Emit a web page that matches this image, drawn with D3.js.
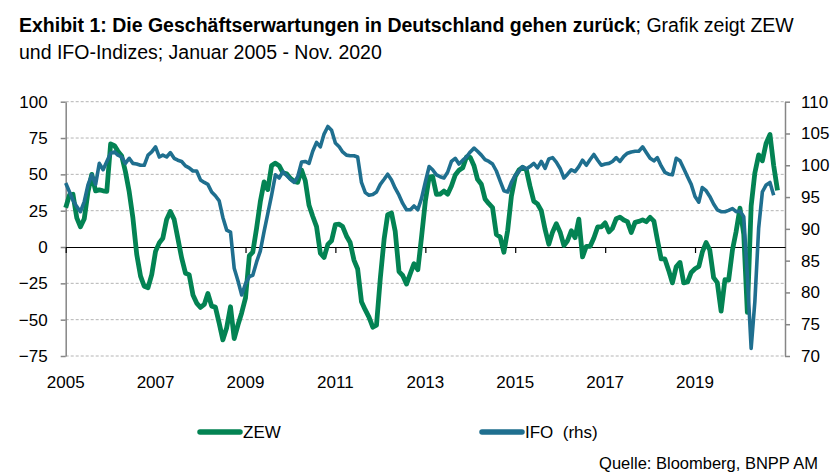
<!DOCTYPE html>
<html>
<head>
<meta charset="utf-8">
<script src="https://cdn.jsdelivr.net/npm/d3@7"></script>
<style>
  body { margin: 0; background: #fff; }
  text { font-family: 'Liberation Sans Narrow', 'Arial Narrow', 'Liberation Sans', Arial, sans-serif; fill: #000; }
</style>
</head>
<body>
<script>
let width = 832,
    height = 475

// monthly values, Jan 2005 onwards
const startMonth = new Date(2005, 0, 1)

const zew = [
  27.0, 35.9, 36.3, 20.1, 13.9, 19.5, 37.9, 50.0, 38.6, 39.3, 38.7, 38.3,
  71.0, 69.8, 66.0, 62.6, 52.0, 38.0, 20.0, -5.0, -20.0, -27.0, -28.0, -19.0,
  -3.0, 3.0, 6.0, 19.0, 24.5, 19.0, 6.0, -7.5, -18.0, -19.0, -33.0, -38.6,
  -41.6, -39.5, -32.0, -40.7, -41.4, -52.4, -63.9, -55.5, -41.1, -63.0, -53.5, -45.2,
  -35.0, -6.0, -3.5, 13.0, 31.1, 44.8, 39.5, 56.1, 57.7, 56.0, 51.1, 50.4,
  47.2, 45.1, 44.5, 53.0, 45.8, 28.7, 21.2, 14.0, -4.3, -7.2, 1.8, 4.3,
  15.4, 15.7, 14.1, 7.6, 3.1, -9.0, -15.1, -37.6, -43.3, -48.3, -55.2, -53.8,
  -21.6, 5.4, 22.3, 23.4, 10.8, -16.9, -19.6, -25.5, -18.2, -11.5, -15.7, 6.9,
  31.5, 48.2, 48.5, 36.3, 36.4, 38.5, 36.3, 42.0, 49.6, 52.8, 54.6, 62.0,
  61.7, 55.7, 46.6, 43.2, 33.1, 29.8, 27.1, 8.6, 6.9, -3.6, 11.5, 34.9,
  48.4, 53.0, 54.8, 53.3, 41.9, 31.5, 29.7, 25.0, 12.1, 1.9, 10.4, 16.1,
  10.2, 1.0, 4.3, 11.2, 6.4, 19.2, -6.8, 0.5, 0.5, 6.2, 13.8, 13.8,
  16.6, 10.4, 12.8, 19.5, 20.6, 18.6, 17.5, 10.0, 17.0, 17.6, 18.7, 17.4,
  20.4, 17.8, 5.1, -8.2, -8.2, -16.1, -24.7, -13.7, -10.6, -24.7, -24.1, -17.5,
  -15.0, -13.4, -3.6, 3.1, -2.1, -21.1, -24.5, -44.1, -22.5, -22.8, -2.1, 10.7,
  26.7, 8.7, -45.0, 28.2, 51.0, 63.4, 59.3, 71.5, 77.4, 56.1, 39.0
]

const ifo = [
  97.2, 95.8, 94.5, 93.5, 92.7, 94.3, 96.9, 98.5, 97.0, 100.3, 99.3, 100.6,
  101.9, 102.1, 101.6, 101.3, 100.3, 101.1, 100.3, 100.2, 100.0, 100.0, 101.6, 102.1,
  102.9, 101.3, 101.6, 101.3, 102.0, 101.1, 100.8, 100.6, 99.9, 99.6, 99.1, 99.1,
  97.7, 97.3, 97.0, 95.8, 95.2, 94.4, 91.8, 89.8, 89.5, 83.8, 81.8, 79.6,
  81.4, 82.5, 82.7, 84.8, 86.5, 89.6, 92.4, 95.3, 98.5, 98.0, 99.0, 98.4,
  97.8, 97.3, 98.2, 100.5, 100.6, 100.3, 102.2, 103.6, 102.9, 104.9, 106.1, 105.5,
  103.5, 102.9, 102.1, 101.6, 101.5, 101.5, 101.3, 97.3, 95.7, 95.3, 95.4, 95.8,
  97.0, 97.8, 98.6, 97.7, 96.4, 95.3, 94.0, 93.0, 93.0, 93.6, 93.0, 94.8,
  97.4, 99.8, 99.3, 98.5, 98.2, 98.0, 98.9, 100.6, 101.1, 100.2, 100.8, 101.3,
  102.1, 102.7, 102.2, 101.6, 100.9, 100.6, 100.2, 99.1, 97.5, 96.0, 95.8, 97.3,
  98.4, 99.1, 99.8, 99.4, 99.8, 100.3, 99.6, 100.6, 99.5, 101.0, 101.2, 100.5,
  99.5, 98.0, 98.6, 99.3, 99.0, 99.8, 100.8, 100.0, 100.9, 101.7, 100.8, 100.0,
  100.2, 100.3, 100.6, 101.2, 100.6, 101.4, 101.9, 102.1, 102.2, 102.2, 102.9, 102.0,
  101.1, 100.7, 101.2, 99.9, 98.9, 98.6, 98.5, 101.1, 100.7, 99.5, 98.2, 97.0,
  95.1, 94.2, 96.5, 96.0, 95.1, 93.9, 93.0, 92.7, 92.7, 92.9, 93.2, 92.7,
  92.8, 91.9, 82.7, 71.2, 78.5, 90.1, 95.8, 96.9, 97.3, 95.3
]

const leftTicks = [100, 75, 50, 25, 0, -25, -50, -75]
const rightTicks = [110, 105, 100, 95, 90, 85, 80, 75, 70]
const yearTicks = [2005, 2007, 2009, 2011, 2013, 2015, 2017, 2019]

const zewColor = '#038353'
const ifoColor = '#1f6f8f'

let svg = d3.select('body').append('svg')
    .attr('width', width)
    .attr('height', height)

svg.append('rect').attr('width', width).attr('height', height).attr('fill', '#fff')

// plot box
const plotLeft = 65.7, plotRight = 785, plotTop = 101.7, plotBottom = 356

const x = d3.scaleTime()
    .domain([new Date(2005, 0, 1), new Date(2021, 0, 1)])
    .range([plotLeft, plotRight])
const yL = d3.scaleLinear().domain([-75, 100]).range([plotBottom, plotTop])
const yR = d3.scaleLinear().domain([70, 110]).range([plotBottom, plotTop])

const monthDate = i => d3.timeMonth.offset(startMonth, i)

// title
let title = svg.append('text').attr('x', 19).attr('y', 31.5).style('font-size', '19.5px')
title.append('tspan').style('font-weight', 'bold')
    .text('Exhibit 1: Die Geschäftserwartungen in Deutschland gehen zurück')
title.append('tspan').text('; Grafik zeigt ZEW')
svg.append('text').attr('x', 19).attr('y', 59).style('font-size', '19.5px')
    .text('und IFO-Indizes; Januar 2005 - Nov. 2020')

// gridlines
svg.append('g').selectAll('line')
    .data(leftTicks.filter(d => d !== 0))
    .join('line')
    .attr('x1', plotLeft).attr('x2', plotRight)
    .attr('y1', d => yL(d)).attr('y2', d => yL(d))
    .attr('stroke', '#b4b4b4')
    .attr('stroke-width', 1)
    .attr('stroke-dasharray', '3,2')

// left axis
let axL = svg.append('g')
    .attr('transform', `translate(${plotLeft},0)`)
    .call(d3.axisLeft(yL).tickValues(leftTicks).tickSize(5).tickSizeOuter(0).tickPadding(13))
axL.select('.domain').attr('stroke', '#868686').attr('stroke-width', 1.5)
axL.selectAll('.tick line').attr('stroke', '#868686').attr('stroke-width', 1.5)
axL.selectAll('text').style('font-size', '17px')

// right axis
let axR = svg.append('g')
    .attr('transform', `translate(${plotRight},0)`)
    .call(d3.axisRight(yR).tickValues(rightTicks).tickSize(5).tickSizeOuter(0).tickPadding(11))
axR.select('.domain').attr('stroke', '#868686').attr('stroke-width', 1.5)
axR.selectAll('.tick line').attr('stroke', '#868686').attr('stroke-width', 1.5)
axR.selectAll('text').style('font-size', '17px')

// zero line with year ticks
let axX = svg.append('g')
    .attr('transform', `translate(0,${yL(0)})`)
    .call(d3.axisBottom(x).tickValues(yearTicks.map(y => new Date(y, 0, 1))).tickSize(6).tickSizeOuter(0).tickFormat(''))
axX.select('.domain').attr('stroke', '#000').attr('stroke-width', 1.2)
axX.selectAll('.tick line').attr('stroke', '#000').attr('stroke-width', 1.2)

// year labels at the bottom
svg.append('g').selectAll('text')
    .data(yearTicks)
    .join('text')
    .attr('x', d => x(new Date(d, 0, 1)))
    .attr('y', 388)
    .attr('text-anchor', 'middle')
    .style('font-size', '17px')
    .text(d => d)

// lines
const zewLine = d3.line().x((d, i) => x(monthDate(i))).y(d => yL(d))
const ifoLine = d3.line().x((d, i) => x(monthDate(i))).y(d => yR(d))

svg.append('path')
    .datum(zew)
    .attr('d', zewLine)
    .attr('fill', 'none')
    .attr('stroke', zewColor)
    .attr('stroke-width', 4.8)
    .attr('stroke-linejoin', 'round')

svg.append('path')
    .datum(ifo)
    .attr('d', ifoLine)
    .attr('fill', 'none')
    .attr('stroke', ifoColor)
    .attr('stroke-width', 3.6)
    .attr('stroke-linejoin', 'round')

// legend
const legend = [
  {label: 'ZEW', color: zewColor, x: 200},
  {label: 'IFO  (rhs)', color: ifoColor, x: 482}
]
let lg = svg.append('g').selectAll('g').data(legend).join('g')
    .attr('transform', d => `translate(${d.x},432)`)
lg.append('line')
    .attr('x1', 0).attr('x2', 40)
    .attr('stroke', d => d.color)
    .attr('stroke-width', 5.5)
    .attr('stroke-linecap', 'round')
lg.append('text')
    .attr('x', 43).attr('dy', '0.35em')
    .style('font-size', '17px')
    .style('white-space', 'pre')
    .text(d => d.label)

svg.append('text')
    .attr('x', 818).attr('y', 469)
    .attr('text-anchor', 'end')
    .style('font-size', '16.5px')
    .text('Quelle: Bloomberg, BNPP AM')
</script>
</body>
</html>
